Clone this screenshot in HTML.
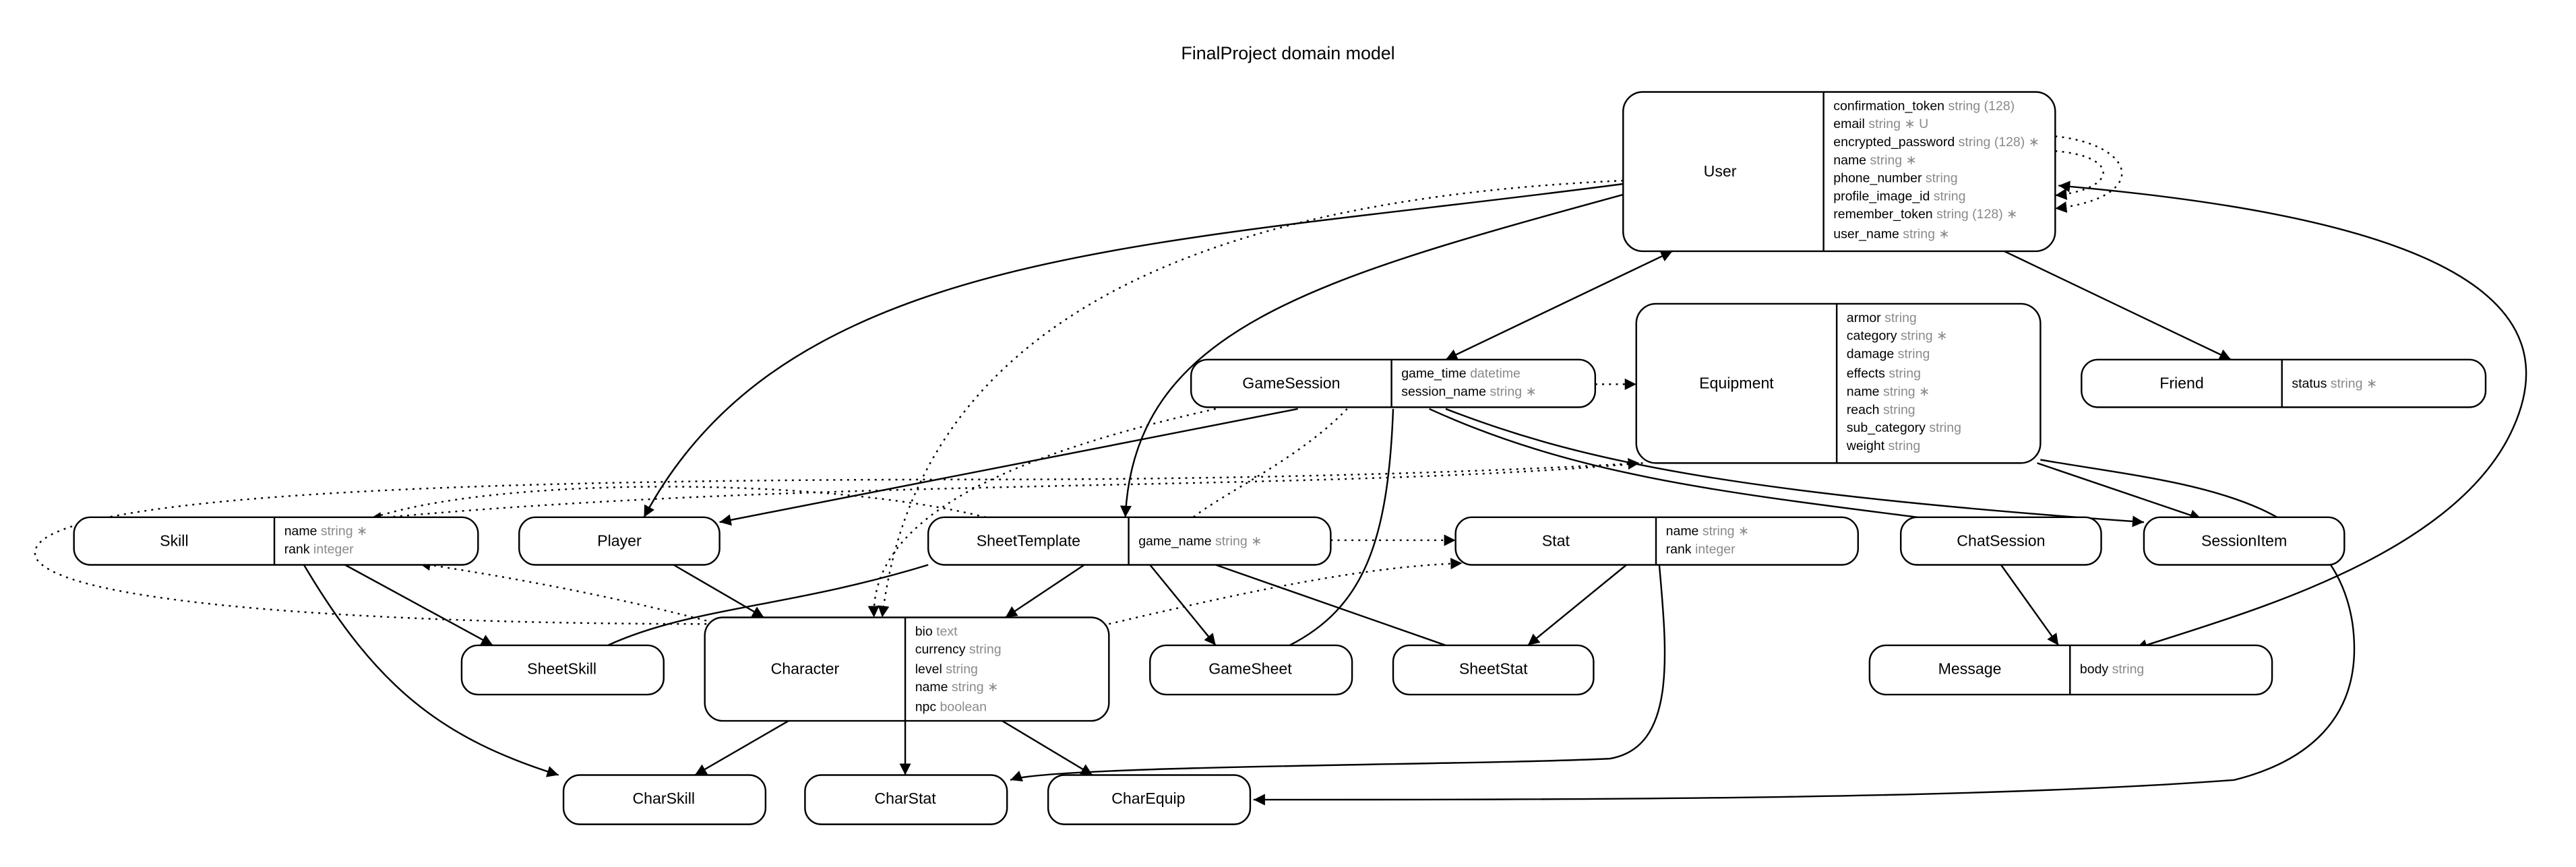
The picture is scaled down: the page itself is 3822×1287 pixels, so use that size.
<!DOCTYPE html>
<html><head><meta charset="utf-8"><style>
html,body{margin:0;padding:0;background:#fff;}
svg{display:block;}
text{font-family:"Liberation Sans",sans-serif;}
.n{font-size:9.5px;text-anchor:middle;dominant-baseline:middle;fill:#000;}
.a{font-size:8px;fill:#000;}
.g{fill:#8a8a8a;}
.b{fill:#fff;stroke:#000;stroke-width:1;}
.e{fill:none;stroke:#000;stroke-width:1;}
.d{fill:none;stroke:#000;stroke-width:1;stroke-dasharray:1.2,3;}
</style></head><body>
<svg width="3822" height="1287" viewBox="0 0 1568 528" preserveAspectRatio="none" xmlns="http://www.w3.org/2000/svg">
<defs>
<marker id="ar" viewBox="0 0 10 10" refX="10" refY="5" markerWidth="7" markerHeight="7" orient="auto-start-reverse" markerUnits="userSpaceOnUse"><path d="M0,0 L10,5 L0,10 z" fill="#000"/></marker>
</defs>
<text x="784" y="36" style="font-size:11px;text-anchor:middle">FinalProject domain model</text>

<!-- edges -->
<path class="e" d="M988,112 C700,150 480,150 392,315" marker-end="url(#ar)"/>
<path class="e" d="M990,118 C800,170 690,200 685,315" marker-end="url(#ar)"/>
<path class="e" d="M1018,153 L880,219" marker-start="url(#ar)" marker-end="url(#ar)"/>
<path class="e" d="M1220,153 L1358,219" marker-end="url(#ar)"/>
<path class="e" d="M1253,113 C1450,130 1570,170 1530,260 C1495,340 1360,375 1300,395" marker-start="url(#ar)" marker-end="url(#ar)"/>
<path class="d" d="M1251,83 C1300,88 1310,120 1251,127" marker-end="url(#ar)"/>
<path class="d" d="M1251,92 C1290,95 1290,115 1251,119" marker-end="url(#ar)"/>
<path class="d" d="M988,110 C760,120 560,180 537,376" marker-end="url(#ar)"/>
<path class="d" d="M740,249 C600,280 530,320 532,376" marker-end="url(#ar)"/>
<path class="d" d="M820,249 C790,280 745,300 725,316"/>
<path class="e" d="M790,249 L438,318" marker-end="url(#ar)"/>
<path class="d" d="M971,234 L996,234" marker-end="url(#ar)"/>
<path class="e" d="M880,249 C960,280 1050,300 1305,318" marker-end="url(#ar)"/>
<path class="e" d="M870,249 C960,290 1050,300 1175,316"/>
<path class="e" d="M848,249 C845,330 830,370 785,393"/>
<path class="d" d="M675,380 C760,360 830,345 890,343" marker-end="url(#ar)"/>
<path class="d" d="M1000,282 C800,300 500,290 225,316" marker-end="url(#ar)"/>
<path class="d" d="M600,315 C500,290 300,290 225,316"/>
<path class="d" d="M430,380 C250,380 40,370 22,340 C5,300 300,292 600,292 C800,292 950,285 998,282" marker-end="url(#ar)"/>
<path class="d" d="M430,378 C360,360 300,350 255,343" marker-end="url(#ar)"/>
<path class="e" d="M1240,282 L1340,316" marker-end="url(#ar)"/>
<path class="e" d="M1242,280 C1330,295 1420,300 1432,380 C1440,440 1400,465 1360,475 C1200,487 950,487 763,487" marker-end="url(#ar)"/>
<path class="d" d="M810,329 L886,329" marker-end="url(#ar)"/>
<path class="e" d="M660,344 L612,376" marker-end="url(#ar)"/>
<path class="e" d="M700,344 L740,393" marker-end="url(#ar)"/>
<path class="e" d="M740,344 L880,393"/>
<path class="e" d="M565,344 C480,370 420,370 370,393"/>
<path class="e" d="M210,344 L300,393" marker-end="url(#ar)"/>
<path class="e" d="M185,344 C230,420 270,450 340,472" marker-end="url(#ar)"/>
<path class="e" d="M410,344 L465,376" marker-end="url(#ar)"/>
<path class="e" d="M990,344 L930,393" marker-end="url(#ar)"/>
<path class="e" d="M1010,344 C1015,400 1020,455 980,462 C900,466 640,466 615,475" marker-end="url(#ar)"/>
<path class="e" d="M1218,344 L1253,393" marker-end="url(#ar)"/>
<path class="e" d="M480,439 L423,472" marker-end="url(#ar)"/>
<path class="e" d="M551,376 L551,472" marker-end="url(#ar)"/>
<path class="e" d="M610,439 L665,472" marker-end="url(#ar)"/>

<!-- nodes -->
<rect class="b" x="988" y="56" width="263" height="97" rx="12"/><line class="e" x1="1110" y1="56" x2="1110" y2="153"/>
<text class="n" x="1047" y="105">User</text>
<text class="a" x="1116" y="67">confirmation_token <tspan class="g">string (128)</tspan></text>
<text class="a" x="1116" y="78">email <tspan class="g">string ∗ U</tspan></text>
<text class="a" x="1116" y="89">encrypted_password <tspan class="g">string (128) ∗</tspan></text>
<text class="a" x="1116" y="100">name <tspan class="g">string ∗</tspan></text>
<text class="a" x="1116" y="111">phone_number <tspan class="g">string</tspan></text>
<text class="a" x="1116" y="122">profile_image_id <tspan class="g">string</tspan></text>
<text class="a" x="1116" y="133">remember_token <tspan class="g">string (128) ∗</tspan></text>
<text class="a" x="1116" y="145">user_name <tspan class="g">string ∗</tspan></text>

<rect class="b" x="725" y="219" width="246" height="29" rx="10"/><line class="e" x1="847" y1="219" x2="847" y2="248"/>
<text class="n" x="786" y="234">GameSession</text>
<text class="a" x="853" y="230">game_time <tspan class="g">datetime</tspan></text>
<text class="a" x="853" y="241">session_name <tspan class="g">string ∗</tspan></text>

<rect class="b" x="996" y="185" width="246" height="97" rx="12"/><line class="e" x1="1118" y1="185" x2="1118" y2="282"/>
<text class="n" x="1057" y="234">Equipment</text>
<text class="a" x="1124" y="196">armor <tspan class="g">string</tspan></text>
<text class="a" x="1124" y="207">category <tspan class="g">string ∗</tspan></text>
<text class="a" x="1124" y="218">damage <tspan class="g">string</tspan></text>
<text class="a" x="1124" y="230">effects <tspan class="g">string</tspan></text>
<text class="a" x="1124" y="241">name <tspan class="g">string ∗</tspan></text>
<text class="a" x="1124" y="252">reach <tspan class="g">string</tspan></text>
<text class="a" x="1124" y="263">sub_category <tspan class="g">string</tspan></text>
<text class="a" x="1124" y="274">weight <tspan class="g">string</tspan></text>

<rect class="b" x="1267" y="219" width="246" height="29" rx="10"/><line class="e" x1="1389" y1="219" x2="1389" y2="248"/>
<text class="n" x="1328" y="234">Friend</text>
<text class="a" x="1395" y="236">status <tspan class="g">string ∗</tspan></text>

<rect class="b" x="45" y="315" width="246" height="29" rx="10"/><line class="e" x1="167" y1="315" x2="167" y2="344"/>
<text class="n" x="106" y="330">Skill</text>
<text class="a" x="173" y="326">name <tspan class="g">string ∗</tspan></text>
<text class="a" x="173" y="337">rank <tspan class="g">integer</tspan></text>

<rect class="b" x="316" y="315" width="122" height="29" rx="10"/><text class="n" x="377" y="330">Player</text>

<rect class="b" x="565" y="315" width="245" height="29" rx="10"/><line class="e" x1="687" y1="315" x2="687" y2="344"/>
<text class="n" x="626" y="330">SheetTemplate</text>
<text class="a" x="693" y="332">game_name <tspan class="g">string ∗</tspan></text>

<rect class="b" x="886" y="315" width="245" height="29" rx="10"/><line class="e" x1="1008" y1="315" x2="1008" y2="344"/>
<text class="n" x="947" y="330">Stat</text>
<text class="a" x="1014" y="326">name <tspan class="g">string ∗</tspan></text>
<text class="a" x="1014" y="337">rank <tspan class="g">integer</tspan></text>

<rect class="b" x="1157" y="315" width="122" height="29" rx="10"/><text class="n" x="1218" y="330">ChatSession</text>
<rect class="b" x="1305" y="315" width="122" height="29" rx="10"/><text class="n" x="1366" y="330">SessionItem</text>

<rect class="b" x="281" y="393" width="123" height="30" rx="10"/><text class="n" x="342" y="408">SheetSkill</text>

<rect class="b" x="429" y="376" width="246" height="63" rx="11"/><line class="e" x1="551" y1="376" x2="551" y2="439"/>
<text class="n" x="490" y="408">Character</text>
<text class="a" x="557" y="387">bio <tspan class="g">text</tspan></text>
<text class="a" x="557" y="398">currency <tspan class="g">string</tspan></text>
<text class="a" x="557" y="410">level <tspan class="g">string</tspan></text>
<text class="a" x="557" y="421">name <tspan class="g">string ∗</tspan></text>
<text class="a" x="557" y="433">npc <tspan class="g">boolean</tspan></text>

<rect class="b" x="700" y="393" width="123" height="30" rx="10"/><text class="n" x="761" y="408">GameSheet</text>
<rect class="b" x="848" y="393" width="122" height="30" rx="10"/><text class="n" x="909" y="408">SheetStat</text>

<rect class="b" x="1138" y="393" width="245" height="30" rx="10"/><line class="e" x1="1260" y1="393" x2="1260" y2="423"/>
<text class="n" x="1199" y="408">Message</text>
<text class="a" x="1266" y="410">body <tspan class="g">string</tspan></text>

<rect class="b" x="343" y="472" width="123" height="30" rx="10"/><text class="n" x="404" y="487">CharSkill</text>
<rect class="b" x="490" y="472" width="123" height="30" rx="10"/><text class="n" x="551" y="487">CharStat</text>
<rect class="b" x="638" y="472" width="123" height="30" rx="10"/><text class="n" x="699" y="487">CharEquip</text>
</svg>
</body></html>
